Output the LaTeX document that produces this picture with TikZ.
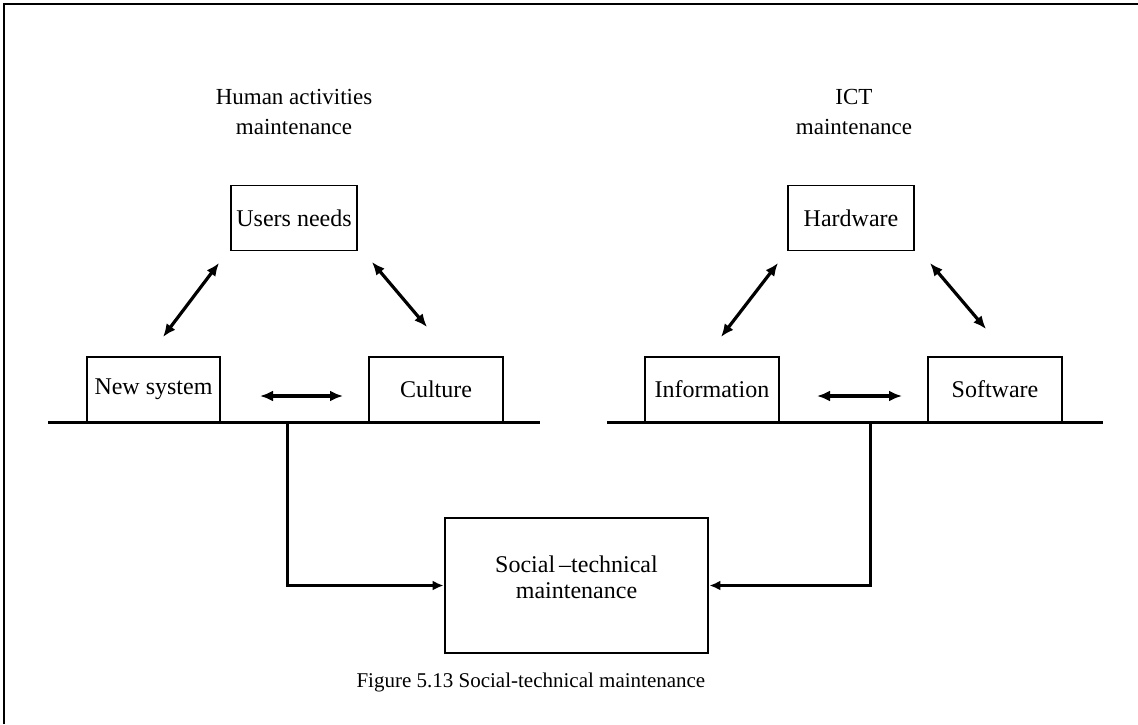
\documentclass[tikz,border=0pt]{standalone}
\usepackage{fontspec}
\setmainfont{Liberation Serif}
\usetikzlibrary{arrows.meta}
\begin{document}
\begin{tikzpicture}[x=1pt,y=-1pt,
  boxtxt/.style={font=\fontsize{24}{26}\selectfont},
  itembox/.style={draw,line width=1.3pt,boxtxt,inner sep=0pt,minimum height=65pt},
  mainbox/.style={draw,line width=2.8pt,inner sep=0pt,minimum width=263pt,minimum height=135pt},
  ground/.style={line width=3pt},
  twoway/.style={line width=3.2pt,{Latex[length=13pt,width=11pt]}-{Latex[length=13pt,width=11pt]}},
  oneway/.style={line width=3pt,-{Latex[length=11pt,width=10pt]}},
  heading/.style={font=\fontsize{23}{30}\selectfont,align=center}]
\useasboundingbox (0,0) rectangle (1138,724);

% frame of the figure
\draw[line width=1.8pt] (4,724) -- (4,4) -- (1138,4);

% group headings
\node[heading] (hum) at (294,112) {Human activities\\maintenance};
\node[heading] (ict) at (854,112) {ICT\\maintenance};

% human activities triangle
\node[itembox,minimum width=126pt] (users) at (294,218) {Users needs};
\node[itembox,minimum width=133pt] (newsys) at (153.5,389.5) {New system};
\node[itembox,minimum width=134pt] (culture) at (436,389.5) {Culture};

% ICT triangle
\node[itembox,minimum width=126pt] (hw) at (851,218) {Hardware};
\node[itembox,minimum width=134pt] (info) at (712,389.5) {Information};
\node[itembox,minimum width=134pt] (sw) at (995,389.5) {Software};

% base lines under each group
\coordinate (gl1) at (48,422);
\coordinate (gl2) at (540,422);
\coordinate (gr1) at (607,422);
\coordinate (gr2) at (1103,422);
\draw[ground] (gl1) -- (gl2);
\draw[ground] (gr1) -- (gr2);

% two-way links inside the groups
\coordinate (a1) at (219,263); \coordinate (a2) at (163,337);
\coordinate (b1) at (372,262); \coordinate (b2) at (427,327);
\coordinate (c1) at (260,396); \coordinate (c2) at (343,396);
\coordinate (d1) at (778,263); \coordinate (d2) at (721,337);
\coordinate (e1) at (930,263); \coordinate (e2) at (986,329);
\coordinate (f1) at (817,396); \coordinate (f2) at (902,396);
\draw[twoway] (a1) -- (a2);
\draw[twoway] (b1) -- (b2);
\draw[twoway] (c1) -- (c2);
\draw[twoway] (d1) -- (d2);
\draw[twoway] (e1) -- (e2);
\draw[twoway] (f1) -- (f2);

% combined box and its label
\node[mainbox] (soc) at (576.5,585.5) {};
\node[boxtxt,align=center] (soctxt) at (576.5,577) {Social\,--technical\\maintenance};

% feeds into the combined box
\coordinate (sl) at (287,422);
\coordinate (sr) at (870,422);
\draw[oneway] (sl) |- (soc.west);
\draw[oneway] (sr) |- (soc.east);

% caption
\node[font=\fontsize{21}{24}\selectfont,anchor=west] (cap) at (353,682) {Figure 5.13 Social-technical maintenance};
\end{tikzpicture}
\end{document}
